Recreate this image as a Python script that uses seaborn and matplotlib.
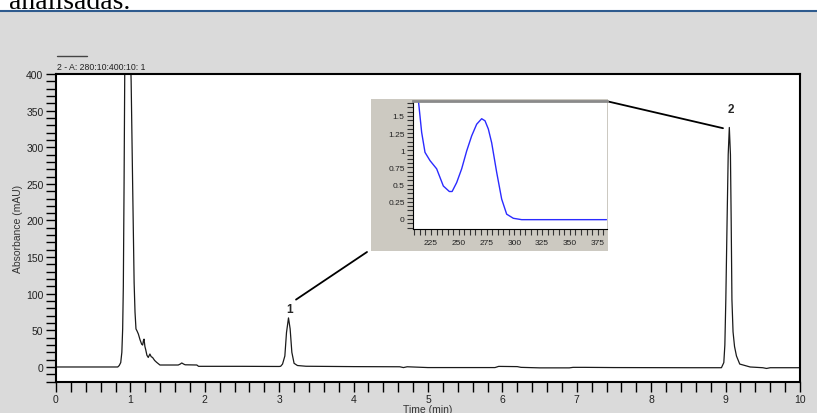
import matplotlib
matplotlib.use("Agg")
import matplotlib.pyplot as plt
from matplotlib.patches import Rectangle
from matplotlib.lines import Line2D
from matplotlib.ticker import MultipleLocator, FormatStrFormatter
import numpy as np
import pandas as pd
import seaborn as sns

# chromatogram (time in min, absorbance in mAU)
time_min = [0.0, 0.5, 0.83, 0.85, 0.87, 0.885, 0.896, 0.905, 0.915, 0.925, 0.96,
            1.0, 1.01, 1.03, 1.05, 1.062, 1.075, 1.09, 1.107, 1.13, 1.152, 1.165,
            1.175, 1.183, 1.195, 1.205, 1.222, 1.24, 1.262, 1.28, 1.298, 1.325,
            1.352, 1.397, 1.643, 1.67, 1.69, 1.715, 1.736, 1.893, 1.916, 2.5,
            3.0, 3.02, 3.045, 3.076, 3.098, 3.125, 3.147, 3.17, 3.2, 3.245, 3.36,
            4.0, 4.62, 4.67, 4.72, 5.0, 5.9, 5.95, 6.2, 6.25, 6.5, 6.9, 6.95,
            7.1, 7.5, 8.5, 8.944, 8.976, 8.99, 9.003, 9.02, 9.035, 9.05, 9.065,
            9.075, 9.085, 9.1, 9.12, 9.146, 9.19, 9.33, 9.5, 9.55, 9.6, 10.0]
absorb = [0.0, 0.0, 0.0, 2, 6, 20, 52, 110, 250, 420, 900,
          430, 390, 250, 115, 75, 52, 49, 45, 37, 31, 30,
          36, 38, 28, 24, 16, 13, 17.7, 14, 13, 9,
          6.4, 2.7, 2.7, 4, 5.5, 4, 3, 2.7, 0.9, 0.9,
          0.7, 1, 4, 15, 47, 67, 52, 20, 5, 2, 1,
          0.5, 0.3, -0.8, 0.3, -0.8, -0.8, 0.8, 0.5, -0.5, -1.2, -1.2, -0.5,
          -0.5, -0.8, -1, -1, 6, 30, 92, 200, 290, 327, 290,
          200, 92, 48, 28, 15, 4, 0, -1, -2, -1, -1]

# UV spectrum of peak 1 (wavelength in nm)
wavelength = [209, 213.5, 216.6, 219.6, 224.1, 230.1, 236.1, 241.5, 244, 248.1,
              252.6, 257.1, 261.6, 266.1, 270.6, 273.6, 276.6, 279.6, 284.1,
              288.6, 293.1, 299.1, 306.6, 383]
spectrum = [1.9, 1.75, 1.26, 0.97, 0.85, 0.73, 0.48, 0.40, 0.40, 0.53,
            0.73, 0.99, 1.21, 1.38, 1.46, 1.43, 1.31, 1.11, 0.68,
            0.29, 0.07, 0.01, -0.01, -0.01]

peak_labels = ["1", "2"]
peak_label_pos = [(3.145, 79), (9.07, 352)]

chrom = pd.DataFrame({"Time (min)": time_min, "Absorbance (mAU)": absorb})
spec = pd.DataFrame({"nm": wavelength, "abs": spectrum})

sns.set_theme(style="ticks")
plt.rcParams["font.family"] = ["Liberation Sans", "DejaVu Sans"]

W, H = 817, 414
fig = plt.figure(figsize=(W / 100, H / 100), dpi=100)
fig.patch.set_facecolor("#dadada")

def fx(px):
    return px / W

def fy(py):
    return 1 - py / H

# white strip with the cut-off caption and the blue rule
fig.add_artist(Rectangle((0, fy(11.5)), 1, 11.5 / H, transform=fig.transFigure,
                         facecolor="white", edgecolor="none", zorder=1))
fig.add_artist(Line2D([0, 1], [fy(11.5), fy(11.5)], transform=fig.transFigure,
                      color="#2e5b8e", lw=1.5, zorder=2))
fig.text(fx(9), fy(9.3), "analisadas.", family="Liberation Serif", fontsize=20,
         va="baseline", ha="left", color="black")

# main chromatogram
ax = fig.add_axes([fx(56), fy(383), fx(800) - fx(56), (383 - 75) / H])
sns.lineplot(data=chrom, x="Time (min)", y="Absorbance (mAU)", ax=ax,
             color="#1a1a1a", lw=0.9, estimator=None, sort=False)
ax.set_xlim(0, 10)
ax.set_ylim(-20.5, 400)
ax.xaxis.set_major_locator(MultipleLocator(1))
ax.xaxis.set_minor_locator(MultipleLocator(0.2))
ax.yaxis.set_major_locator(MultipleLocator(50))
ax.yaxis.set_minor_locator(MultipleLocator(10))
ax.tick_params(which="both", direction="out", length=7, width=1, color="black",
               labelsize=7.5, pad=2, labelcolor="#222222")
for s in ax.spines.values():
    s.set_visible(True)
    s.set_linewidth(1.5)
    s.set_color("black")
ax.set_xlabel("Time (min)", fontsize=7.5, labelpad=0, color="#333333")
ax.set_ylabel("Absorbance (mAU)", fontsize=7.5, labelpad=2, color="#333333")
ax.set_facecolor("white")

# legend-ish header
fig.add_artist(Line2D([fx(57), fx(87)], [fy(57), fy(57)], transform=fig.transFigure,
                      color="#444444", lw=1))
fig.text(fx(57), fy(67), "2 - A: 280:10:400:10: 1", fontsize=6.3, color="#222222",
         va="center", ha="left")

# peak labels and connector lines
for lab, (tx, ty) in zip(peak_labels, peak_label_pos):
    ax.text(tx, ty, lab, fontsize=8.5, fontweight="bold", ha="center", va="center")
ax.annotate("", xy=(fx(367), fy(253)), xycoords="figure fraction",
            xytext=(3.226, 92), textcoords="data",
            arrowprops=dict(arrowstyle="-", color="black", lw=1.3,
                            shrinkA=0, shrinkB=0), annotation_clip=False)
ax.annotate("", xy=(fx(609), fy(102.7)), xycoords="figure fraction",
            xytext=(8.965, 326), textcoords="data",
            arrowprops=dict(arrowstyle="-", color="black", lw=1.3,
                            shrinkA=0, shrinkB=0), annotation_clip=False)

# inset spectrum on its own grey panel
fig.add_artist(Rectangle((fx(371), fy(252)), (608 - 371) / W, (252 - 100) / H,
                         transform=fig.transFigure, facecolor="#ccc9c1",
                         edgecolor="none", zorder=1))
axi = fig.add_axes([fx(413), fy(230), (607 - 413) / W, (230 - 102) / H])
axi.set_zorder(3)
sns.lineplot(data=spec, x="nm", y="abs", ax=axi, color="#2b2bff", lw=1,
             estimator=None, sort=False)
axi.set_xlim(208.8, 383.4)
axi.set_ylim(-0.146, 1.718)
axi.xaxis.set_major_locator(MultipleLocator(25))
axi.xaxis.set_minor_locator(MultipleLocator(5))
axi.yaxis.set_major_locator(MultipleLocator(0.25))
axi.yaxis.set_minor_locator(MultipleLocator(0.0625))
axi.yaxis.set_major_formatter(FormatStrFormatter("%g"))
axi.tick_params(which="both", direction="out", length=4.5, width=0.8, color="#333333",
                labelsize=6, pad=1.5, labelcolor="#222222")
axi.tick_params(axis="x", pad=3)
axi.set_xlabel("")
axi.set_ylabel("")
axi.set_facecolor("white")
axi.spines["right"].set_visible(False)
axi.spines["top"].set_visible(True)
axi.spines["top"].set_color("#8a8a8a")
axi.spines["top"].set_linewidth(2)
axi.spines["left"].set_color("black")
axi.spines["left"].set_linewidth(0.8)
axi.spines["bottom"].set_color("black")
axi.spines["bottom"].set_linewidth(0.8)

fig.savefig("out.png", dpi=100, facecolor=fig.get_facecolor())
